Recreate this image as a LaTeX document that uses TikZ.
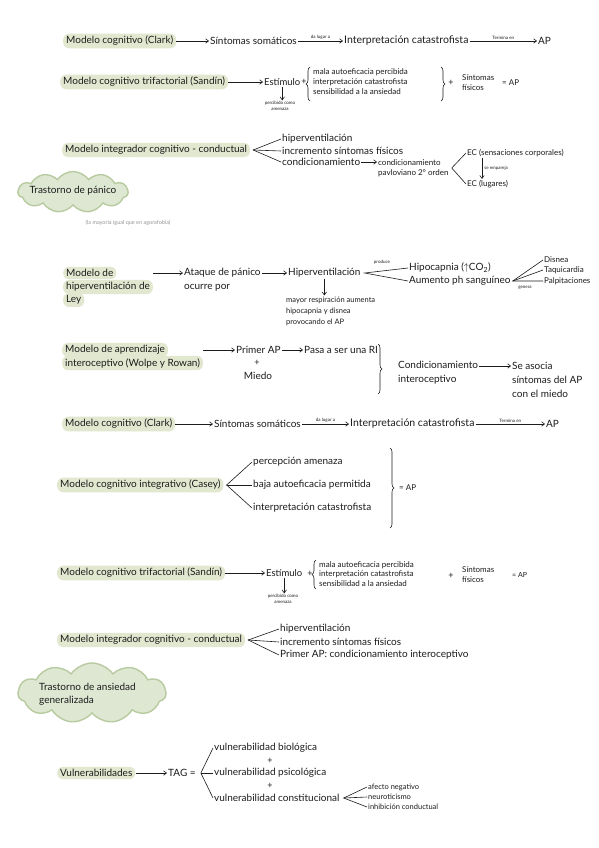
\documentclass[tikz,border=0pt]{standalone}
\usepackage{fontspec}
\setmainfont{Lato}
\usetikzlibrary{arrows.meta,decorations.pathreplacing,shapes.symbols,calc}
\definecolor{hlc}{RGB}{226,231,207}
\definecolor{cloudf}{RGB}{222,231,210}
\definecolor{cloudb}{RGB}{184,203,160}
\definecolor{ink}{RGB}{28,28,28}
\definecolor{greyt}{RGB}{150,150,150}
\tikzset{
  base/.style={inner sep=1pt, text=ink},
  hl/.style={base, fill=hlc, rounded corners=6pt, inner xsep=3pt, inner ysep=2.5pt, font=\fontsize{10}{12}\selectfont, anchor=west},
  tx/.style={base, font=\fontsize{10}{14}\selectfont, anchor=west, align=left},
  sm/.style={base, font=\fontsize{8}{10}\selectfont, anchor=west, align=left},
  lb/.style={base, font=\fontsize{4.5}{5.5}\selectfont, align=center},
  pl/.style={base, font=\fontsize{9}{10}\selectfont},
  arr/.style={draw=ink, line width=0.6pt, -{Straight Barb[length=3pt,width=4.5pt]}},
  ln/.style={draw=ink, line width=0.6pt},
  brc/.style={draw=ink, line width=0.6pt, decorate, decoration={brace, amplitude=4pt}},
  cloudbox/.style={cloud, cloud puffs=11, cloud puff arc=110, draw=cloudb, fill=cloudf, line width=1.4pt, inner sep=0pt},
}
\begin{document}
\begin{tikzpicture}[x=1pt,y=-1pt]
\fill[white] (0,0) rectangle (599,848);
\useasboundingbox (0,0) rectangle (599,848);

% ---------- Row 1: Clark
\node[hl] (c1) at (63,41) {Modelo cognitivo (Clark)};
\node[tx] (s1) at (209,41) {Síntomas somáticos};
\node[tx, font=\fontsize{10.5}{14}\selectfont] (i1) at (343,41) {Interpretación catastrofista};
\node[tx] (ap1) at (537,41) {AP};
\draw[arr] (c1) -- (s1);
\draw[arr] (s1) -- node[lb, above=0pt]{da lugar a} (i1);
\draw[arr] (i1) -- node[lb, above=0pt]{Termina en} (ap1);

% ---------- Row 2: Sandin
\node[hl] (c2) at (60,82) {Modelo cognitivo trifactorial (Sandín)};
\node[tx, font=\fontsize{9.5}{12}\selectfont] (e2) at (263,82) {Estímulo};
\node[lb] (pc2) at (280,106) {percibido como\\amenaza};
\draw[arr] (c2) -- (e2);
\draw[arr] (e2.south) -- (e2.south |- pc2.north);
\node[pl] (p2a) at (304,82) {+};
\node[sm] (m2) at (312,82) {mala autoeficacia percibida\\interpretación catastrofista\\sensibilidad a la ansiedad};
\coordinate (b2a) at (310,101);
\coordinate (b2b) at (310,67);
\draw[brc] (b2a) -- (b2b);
\coordinate (b2c) at (441,67);
\coordinate (b2d) at (441,101);
\draw[brc] (b2c) -- (b2d);
\node[pl] (p2b) at (451,83) {+};
\node[sm] (sf2) at (461,83) {Síntomas\\físicos};
\node[sm] (eq2) at (501,83) {= AP};

% ---------- Row 3: integrador
\node[hl] (c3) at (62,150) {Modelo integrador cognitivo - conductual};
\node[tx] (h3) at (281,139) {hiperventilación};
\node[tx] (ic3) at (281,151) {incremento síntomas físicos};
\node[tx] (cd3) at (281,162) {condicionamiento};
\coordinate (f3) at ($(c3.east)+(3,0)$);
\draw[ln] (h3.west) -- (f3) -- (cd3.west);
\draw[ln] (f3) -- (ic3.west);
\node[sm] (pv3) at (377,168) {condicionamiento\\pavloviano 2° orden};
\draw[arr] (cd3.east) -- (cd3.east -| pv3.west);
\coordinate (f3b) at ($(pv3.east)+(2,0)$);
\node[sm] (ec1) at (466,153) {EC (sensaciones corporales)};
\node[sm] (ec2) at (466,184) {EC (lugares)};
\draw[ln] (ec1.west) -- (f3b) -- (ec2.west);
\coordinate (d3a) at ($(ec1.south west)+(16,0)$);
\coordinate (d3b) at ($(ec2.north west)+(16,0)$);
\draw[arr] (d3a) -- node[lb, right=1pt]{se empareja} (d3b);

% cloud 1
\node[cloudbox, minimum width=110pt, minimum height=41pt] (cl1) at (73,192) {};
\node[base, font=\fontsize{10}{12}\selectfont] (tp1) at (73,191) {Trastorno de pánico};
\node[base, text=greyt, font=\fontsize{5.5}{6.5}\selectfont] (gt1) at (128,223) {(la mayoría igual que en agorafobia)};

% ---------- Row 4: Ley
\node[hl] (l4a) at (63,273) {Modelo de};
\node[hl] (l4b) at (63,287) {hiperventilación de};
\node[hl] (l4c) at (63,300) {Ley};
\node[tx] (at4) at (183,280) {Ataque de pánico\\ocurre por};
\draw[arr] (l4b.east |- l4a.center) -- (at4.west |- l4a.center);
\node[tx] (hv4) at (287,273) {Hiperventilación};
\draw[arr] (at4.east |- hv4.center) -- (hv4.west);
\node[base, font=\fontsize{7.5}{11}\selectfont, anchor=west, align=left] (mr4) at (285,311) {mayor respiración aumenta\\hipocapnia y disnea\\provocando el AP};
\draw[arr] (hv4.south) -- (hv4.south |- mr4.north);
\coordinate (f4) at ($(hv4.east)+(3,0)$);
\node[tx] (hc4) at (408,268) {Hipocapnia ($\uparrow$CO\textsubscript{2})};
\node[tx] (ph4) at (408,281) {Aumento ph sanguíneo};
\draw[ln] (hc4.west) -- (f4) -- (ph4.west);
\node[lb] (pr4) at (382,262) {produce};
\coordinate (f4b) at ($(ph4.east)+(1,0)$);
\node[sm] (ds4) at (543,260) {Disnea};
\node[sm] (tq4) at (543,270) {Taquicardia};
\node[sm] (pp4) at (543,281) {Palpitaciones};
\draw[ln] (ds4.west) -- (f4b) -- (pp4.west);
\draw[ln] (f4b) -- (tq4.west);
\node[lb] (gn4) at (525,288) {genera};

% ---------- Row 5: Wolpe y Rowan
\node[hl] (l5a) at (62,350) {Modelo de aprendizaje};
\node[hl] (l5b) at (62,363) {interoceptivo (Wolpe y Rowan)};
\node[tx] (pa5) at (235,350) {Primer AP};
\draw[arr] (l5b.east |- l5a.center) -- (pa5.west);
\node[pl] (pl5) at (257,363) {+};
\node[base, font=\fontsize{10}{12}\selectfont] (mi5) at (258,376) {Miedo};
\node[tx] (ps5) at (303,350) {Pasa a ser una RI};
\draw[arr] (pa5) -- (ps5);
\coordinate (b5a) at (378,344);
\coordinate (b5b) at (378,394);
\draw[brc] (b5a) -- (b5b);
\coordinate (y5) at (0,366);
\node[tx] (cd5) at (397,373) {Condicionamiento\\interoceptivo};
\node[tx] (sa5) at (511,380) {Se asocia\\síntomas del AP\\con el miedo};
\draw[arr] (cd5.east |- y5) -- (sa5.west |- y5);

% ---------- Row 6: Clark
\node[hl] (c6) at (62,424) {Modelo cognitivo (Clark)};
\node[tx] (s6) at (213,424) {Síntomas somáticos};
\node[tx, font=\fontsize{10.5}{14}\selectfont] (i6) at (349,424) {Interpretación catastrofista};
\node[tx] (ap6) at (545,424) {AP};
\draw[arr] (c6) -- (s6);
\draw[arr] (s6) -- node[lb, above=0pt]{da lugar a} (i6);
\draw[arr] (i6) -- node[lb, above=0pt]{Termina en} (ap6);

% ---------- Row 7: Casey
\node[hl] (c7) at (57,485) {Modelo cognitivo integrativo (Casey)};
\node[tx] (pe7) at (252,462) {percepción amenaza};
\node[tx] (ba7) at (252,485) {baja autoeficacia permitida};
\node[tx] (it7) at (252,508) {interpretación catastrofista};
\coordinate (f7) at ($(c7.east)+(3,0)$);
\draw[ln] (pe7.west) -- (f7) -- (it7.west);
\draw[ln] (f7) -- (ba7.west);
\coordinate (b7a) at (390,448);
\coordinate (b7b) at (390,528);
\draw[brc] (b7a) -- (b7b);
\node[sm] (eq7) at (398,488) {= AP};

% ---------- Row 8: Sandin
\node[hl] (c8) at (57,573) {Modelo cognitivo trifactorial (Sandín)};
\node[tx, font=\fontsize{9.5}{12}\selectfont] (e8) at (265,573) {Estímulo};
\node[lb] (pc8) at (283,599) {percibido como\\amenaza};
\draw[arr] (c8) -- (e8);
\draw[arr] (e8.south) -- (e8.south |- pc8.north);
\node[pl] (p8a) at (310,574) {+};
\coordinate (b8a) at (316,589);
\coordinate (b8b) at (316,560);
\draw[brc] (b8a) -- (b8b);
\node[base, font=\fontsize{8}{9.5}\selectfont, anchor=west, align=left] (m8) at (318,574) {mala autoeficacia percibida\\interpretación catastrofista\\sensibilidad a la ansiedad};
\node[pl] (p8b) at (451,576) {+};
\node[sm] (sf8) at (461,574.5) {Síntomas\\físicos};
\node[base, font=\fontsize{7}{8}\selectfont, anchor=west] (eq8) at (511,575) {= AP};

% ---------- Row 9: integrador
\node[hl] (c9) at (57,640) {Modelo integrador cognitivo - conductual};
\node[tx] (h9) at (279,629) {hiperventilación};
\node[tx] (ic9) at (279,642) {incremento síntomas físicos};
\node[tx] (pa9) at (279,655) {Primer AP: condicionamiento interoceptivo};
\coordinate (f9) at ($(c9.east)+(3,0)$);
\draw[ln] (h9.west) -- (f9) -- (pa9.west);
\draw[ln] (f9) -- (ic9.west);

% cloud 2
\node[cloudbox, minimum width=148pt, minimum height=60pt] (cl2) at (92,693) {};
\node[tx, font=\fontsize{10}{13}\selectfont] (tg2) at (38,694) {Trastorno de ansiedad\\generalizada};

% ---------- Row 10: TAG
\node[hl] (v10) at (57,773) {Vulnerabilidades};
\node[tx] (tag10) at (167,773) {TAG =};
\draw[arr] (v10) -- (tag10);
\node[tx] (vb10) at (213,748) {vulnerabilidad biológica};
\node[tx] (vp10) at (213,773) {vulnerabilidad psicológica};
\node[tx] (vc10) at (213,798) {vulnerabilidad constitucional};
\coordinate (f10) at ($(tag10.east)+(4,0)$);
\draw[ln] (vb10.west) -- (f10) -- (vc10.west);
\draw[ln] (f10) -- (vp10.west);
\node[pl] (pa10) at (270,760.5) {+};
\node[pl] (pb10) at (270,785.5) {+};
\node[base, font=\fontsize{7.5}{9.5}\selectfont, anchor=west] (af10) at (367,787) {afecto negativo};
\node[base, font=\fontsize{7.5}{9.5}\selectfont, anchor=west] (ne10) at (367,797) {neuroticismo};
\node[base, font=\fontsize{7.5}{9.5}\selectfont, anchor=west] (ih10) at (367,807) {inhibición conductual};
\coordinate (f10b) at ($(vc10.east)+(3,0)$);
\draw[ln] (af10.west) -- (f10b) -- (ih10.west);
\draw[ln] (f10b) -- (ne10.west);
\end{tikzpicture}
\end{document}
